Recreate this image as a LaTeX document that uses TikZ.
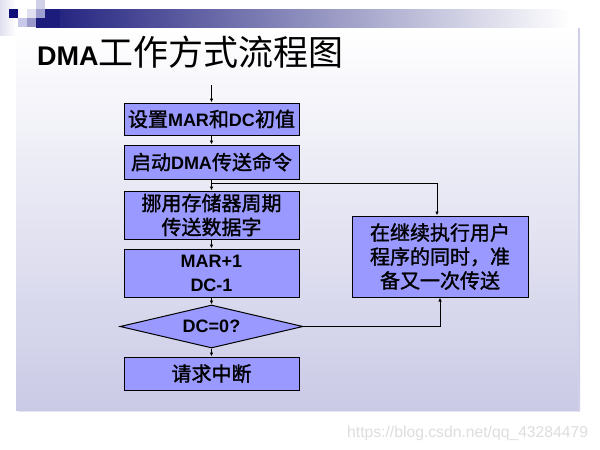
\documentclass[tikz,border=0pt]{standalone}
\usepackage{fontspec}
\setmainfont{Liberation Sans}
\newfontfamily\cjk{Noto Sans CJK SC}
\newfontfamily\cjkb[FakeBold=1.5]{Noto Sans CJK SC}
\usetikzlibrary{shapes.geometric,arrows.meta}
\definecolor{boxfill}{HTML}{9999FF}
\definecolor{navy}{HTML}{1C1C7C}
\definecolor{darknavy}{HTML}{10107A}
\definecolor{panelbot}{HTML}{CACAE6}
\definecolor{sqa}{RGB}{224,224,240}
\definecolor{sqb}{RGB}{208,208,232}
\definecolor{sqc}{RGB}{160,160,208}
\definecolor{sqd}{RGB}{200,200,232}
\definecolor{sqe}{RGB}{153,153,204}
\newcommand\zh[1]{{\cjkb\mdseries\fontsize{20}{24}\selectfont #1}}
\begin{document}
\begin{tikzpicture}[x=1pt,y=-1pt,
  stepbox/.style={draw=black, line width=1pt, fill=boxfill, minimum width=175pt, inner sep=0pt, align=center, font=\fontsize{18}{24}\selectfont\bfseries},
  decision/.style={diamond, aspect=4.25, draw=black, line width=1pt, fill=boxfill, minimum width=183pt, minimum height=43pt, inner sep=0pt, font=\fontsize{18}{24}\selectfont\bfseries},
  flow/.style={draw=black, line width=0.8pt, -{Latex[length=4pt,width=3.5pt]}}]
\useasboundingbox (0,0) rectangle (600,450);
% background
\fill[white] (0,0) rectangle (600,450);
\shade[left color=sqa, right color=white] (0,0) rectangle (16,35);
\shade[top color=white, bottom color=panelbot] (16,28) rectangle (580,410);
\draw[panelbot!90, line width=1.5pt] (579,28) -- (579,410);
\draw[panelbot!50, line width=1pt] (18,411) -- (580,411);
% header bar
\shade[left color=navy, right color=white] (36,9) rectangle (570,27);
\fill[navy] (36,18) rectangle (45,27);
\fill[navy] (45,9) rectangle (60,27);
\fill[darknavy] (9,9) rectangle (18,18);
\fill[sqa] (27,9) rectangle (36,18);
\fill[sqb] (36,0) rectangle (45,9);
\fill[sqc] (36,9) rectangle (45,18);
\fill[sqd] (18,18) rectangle (27,27);
\fill[sqe] (27,18) rectangle (36,27);
% title
\node[anchor=base west, inner sep=0pt] (title) at (37,65) {\fontsize{27}{30}\selectfont\bfseries DMA{\cjk\mdseries\fontsize{35}{40}\selectfont 工作方式流程图}};
% flow chart
\node[stepbox, minimum height=32pt] (b1) at (211.5,119) {\zh{设置}MAR\zh{和}DC\zh{初值}};
\node[stepbox, minimum height=34pt] (b2) at (211.5,162) {\zh{启动}DMA\zh{传送命令}};
\node[stepbox, minimum height=48pt] (b3) at (211.5,215) {\zh{挪用存储器周期}\\\zh{传送数据字}};
\node[stepbox, minimum height=48pt] (b4) at (211.5,273) {MAR+1\\DC-1};
\node[decision] (d) at (211.5,326.5) {DC=0?};
\node[stepbox, minimum height=33pt] (b5) at (211.5,373.5) {\zh{请求中断}};
\node[stepbox, minimum width=176pt, minimum height=81pt] (r) at (440,256.5) {\zh{在继续执行用户}\\\zh{程序的同时，准}\\\zh{备又一次传送}};
\coordinate (start) at (211.5,85);
\path (b2.south) ++(0,4) coordinate (j);
\draw[flow] (start) -- (b1);
\draw[flow] (b1) -- (b2);
\draw[flow] (b2) -- (b3);
\draw[flow] (j) -| ([xshift=-3pt]r.north);
\draw[flow] (b3) -- (b4);
\draw[flow] (b4) -- (d);
\draw[flow] (d) -- (b5);
\draw[flow] (d.east) -| (r.south);
% watermark
\node[anchor=base west, inner sep=0pt, text=black!13, font=\fontsize{15.7}{18}\selectfont] (wm) at (347,437) {https://blog.csdn.net/qq\_43284479};
\end{tikzpicture}
\end{document}
